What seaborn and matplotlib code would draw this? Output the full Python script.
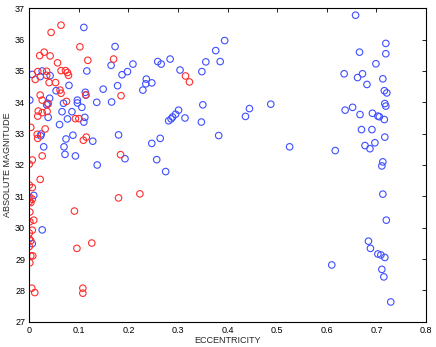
import matplotlib
matplotlib.use("Agg")
import matplotlib.pyplot as plt
import seaborn as sns
import pandas as pd

red_ecc = [0.064, 0.044, 0.102, 0.030, 0.021, 0.042, 0.118, 0.170, 0.057, 0.017,
           0.035, 0.064, 0.073, 0.077, 0.079, 0.035, 0.012, 0.040, 0.053, 0.315,
           0.323, 0.062, 0.064, 0.022, 0.114, 0.185, 0.026, 0.075, 0.038, 0.018,
           0.036, 0.026, 0.017, 0.093, 0.100, 0.003, 0.032, 0.016, 0.017, 0.115,
           0.109, 0.184, 0.026, 0.006, 0.000,
           0.022, 0.000, 0.006, 0.223, 0.180, 0.001, 0.006, 0.000, 0.003, 0.091,
           0.001, 0.009, 0.001, 0.006, 0.000, 0.000, 0.003, 0.126, 0.096, 0.000,
           0.003, 0.007, 0.001, 0.005, 0.108, 0.108, 0.011]
red_mag = [36.46, 36.23, 35.77, 35.60, 35.49, 35.48, 35.34, 35.38, 35.26, 34.98,
           34.99, 35.01, 35.01, 34.95, 34.86, 34.86, 34.73, 34.63, 34.63, 34.84,
           34.65, 34.39, 34.29, 34.23, 34.24, 34.21, 34.07, 34.03, 33.95, 33.72,
           33.71, 33.67, 33.56, 33.48, 33.48, 33.20, 33.15, 32.98, 32.85, 32.89,
           32.79, 32.33, 32.29, 32.16, 32.03,
           31.54, 31.36, 31.28, 31.08, 30.95, 30.97, 30.91, 30.83, 30.80, 30.53,
           30.50, 30.24, 30.19, 29.92, 29.83, 29.64, 29.58, 29.51, 29.34, 29.40,
           29.10, 29.10, 28.88, 28.07, 28.07, 27.91, 27.93]

blue_ecc = [0.009, 0.026, 0.006, 0.275,
            0.110, 0.173, 0.376, 0.356, 0.385, 0.394, 0.209, 0.259, 0.266, 0.284,
            0.165, 0.198, 0.187, 0.304, 0.348, 0.116, 0.026, 0.006, 0.022, 0.042,
            0.080, 0.236, 0.235, 0.247, 0.229, 0.178, 0.149, 0.054, 0.113, 0.114,
            0.041, 0.001, 0.097, 0.097, 0.136, 0.166, 0.037, 0.035, 0.069, 0.350,
            0.106, 0.066, 0.086, 0.301, 0.295, 0.289, 0.286, 0.281, 0.314, 0.038,
            0.077, 0.112, 0.110, 0.347, 0.061, 0.024, 0.023, 0.088, 0.180, 0.382,
            0.074, 0.264, 0.128, 0.247, 0.029, 0.070, 0.072, 0.093, 0.193, 0.257,
            0.137,
            0.658, 0.719, 0.666, 0.719, 0.699, 0.635, 0.672, 0.662, 0.681, 0.713,
            0.716, 0.721, 0.717, 0.719, 0.444, 0.436, 0.487, 0.637, 0.652, 0.667,
            0.692, 0.703, 0.706, 0.716, 0.670, 0.691, 0.717, 0.525, 0.617, 0.677,
            0.687, 0.697, 0.713, 0.711,
            0.713, 0.720, 0.684, 0.688, 0.703, 0.709, 0.717, 0.610, 0.711, 0.715,
            0.729]
blue_mag = [31.03, 29.93, 29.49, 31.79,
            36.39, 35.78, 35.65, 35.29, 35.30, 35.97, 35.22, 35.30, 35.22, 35.38,
            35.18, 34.98, 34.88, 35.03, 34.98, 35.00, 35.00, 34.89, 34.82, 34.85,
            34.54, 34.74, 34.59, 34.62, 34.39, 34.53, 34.42, 34.37, 34.32, 34.23,
            34.13, 34.07, 34.07, 33.98, 34.00, 34.01, 33.97, 33.92, 33.97, 33.92,
            33.84, 33.70, 33.70, 33.75, 33.62, 33.53, 33.47, 33.41, 33.50, 33.52,
            33.47, 33.52, 33.37, 33.37, 33.29, 32.99, 32.93, 32.95, 32.96, 32.94,
            32.83, 32.85, 32.76, 32.69, 32.58, 32.58, 32.34, 32.29, 32.20, 32.17,
            32.00,
            36.78, 35.88, 35.60, 35.55, 35.23, 34.91, 34.91, 34.79, 34.57, 34.75,
            34.37, 34.30, 33.96, 33.88, 33.80, 33.55, 33.94, 33.75, 33.84, 33.61,
            33.65, 33.56, 33.54, 33.45, 33.13, 33.13, 32.89, 32.58, 32.46, 32.62,
            32.52, 32.71, 32.10, 31.97,
            31.07, 30.24, 29.57, 29.34, 29.16, 29.13, 29.05, 28.81, 28.67, 28.43,
            27.63]

x_ticks = [0, 0.1, 0.2, 0.3, 0.4, 0.5, 0.6, 0.7, 0.8]
x_labels = ["0", "0.1", "0.2", "0.3", "0.4", "0.5", "0.6", "0.7", "0.8"]
y_ticks = [27, 28, 29, 30, 31, 32, 33, 34, 35, 36, 37]

sns.set_style("white")
plt.rcParams['font.family'] = ['Liberation Sans', 'DejaVu Sans']

fig = plt.figure(figsize=(4.36, 3.47), dpi=100)
ax = fig.add_axes([0.0672, 0.0729, 0.9098, 0.9032])

blue_df = pd.DataFrame({"ecc": blue_ecc, "mag": blue_mag})
red_df = pd.DataFrame({"ecc": red_ecc, "mag": red_mag})

sns.scatterplot(data=blue_df, x="ecc", y="mag", ax=ax, marker="o", s=22,
                facecolors="none", edgecolor="#3f4fff", linewidth=0.8, legend=False)
sns.scatterplot(data=red_df, x="ecc", y="mag", ax=ax, marker="o", s=22,
                facecolors="none", edgecolor="#ff2e2e", linewidth=0.8, legend=False)

ax.set_xlim(0, 0.8)
ax.set_ylim(27, 37)
ax.set_xticks(x_ticks)
ax.set_xticklabels(x_labels)
ax.set_yticks(y_ticks)
ax.tick_params(direction="in", length=3, width=0.6, labelsize=6.5, colors="black",
               top=True, right=True, pad=3)
for sp in ax.spines.values():
    sp.set_visible(True)
    sp.set_color("black")
    sp.set_linewidth(0.8)
ax.set_xlabel("ECCENTRICITY", fontsize=6.5, labelpad=1)
ax.set_ylabel("ABSOLUTE MAGNITUDE", fontsize=6.5, labelpad=2)

fig.savefig("out.png", dpi=100)
